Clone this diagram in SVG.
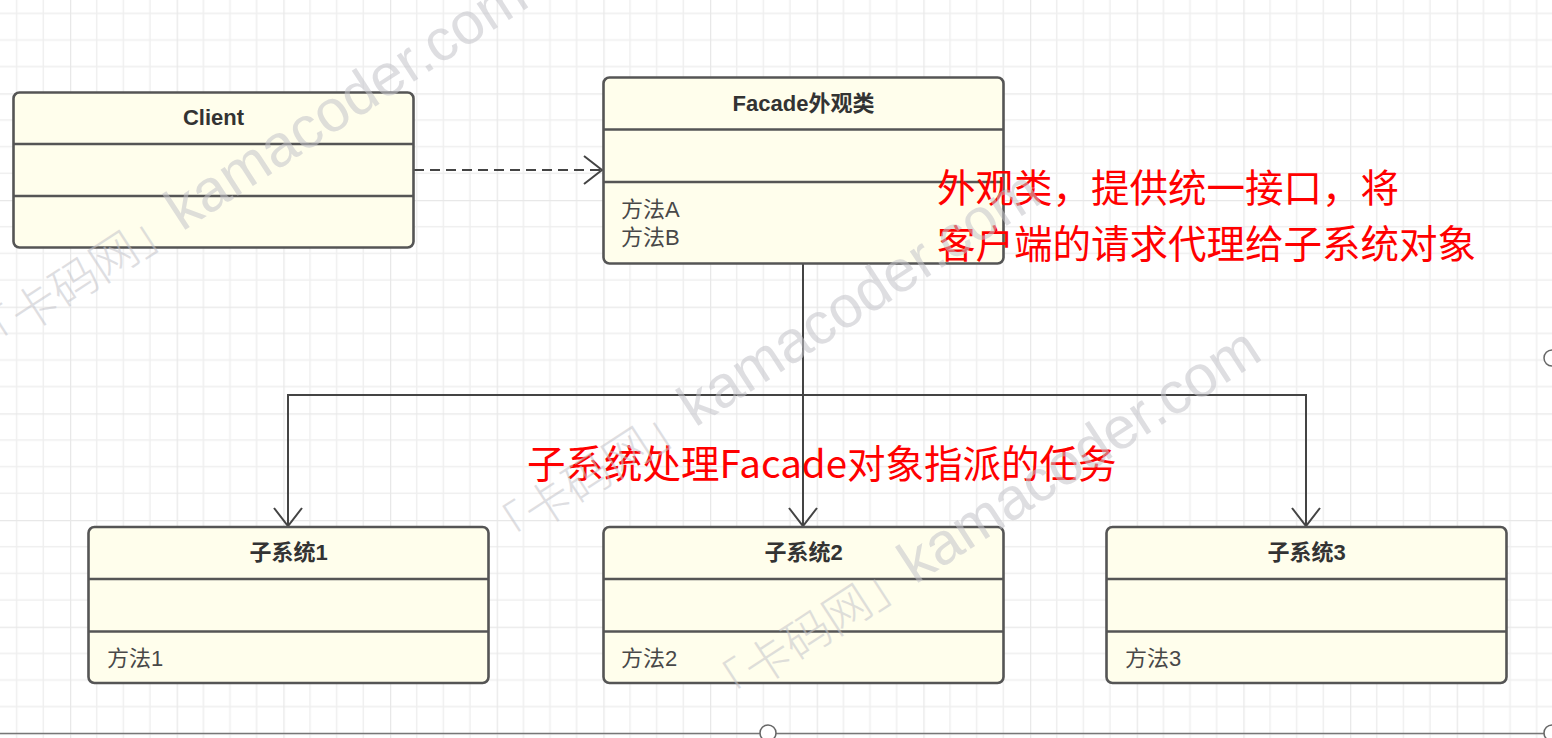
<svg xmlns="http://www.w3.org/2000/svg" width="1552" height="738" viewBox="0 0 1552 738">
  <defs>
    <pattern id="grid" patternUnits="userSpaceOnUse" x="70" y="93.33" width="106.67" height="106.67">
      <path d="M26.67,0 V106.67 M53.33,0 V106.67 M80,0 V106.67 M0,26.67 H106.67 M0,53.33 H106.67 M0,80 H106.67" stroke="#efefef" stroke-width="1.5" fill="none"/>
      <path d="M0,0 V106.67 M0,0 H106.67" stroke="#e8e8e8" stroke-width="2.5" fill="none"/>
    </pattern>
    <marker id="open" viewBox="0 0 24 32" markerUnits="userSpaceOnUse" markerWidth="24" markerHeight="32" refX="21" refY="16" orient="auto">
      <path d="M3,2 L21,16 L3,30" fill="none" stroke="#444" stroke-width="2"/>
    </marker>
    <style>
      .box { fill: #fffeec; stroke: #555; stroke-width: 2.6; }
      .sep { stroke: #555; stroke-width: 2.6; fill: none; }
      .title { font-family: "Liberation Sans", "Noto Sans CJK SC", sans-serif; font-weight: bold; font-size: 22px; fill: #333; text-anchor: middle; }
      .meth { font-family: "Liberation Sans", "Noto Sans CJK SC", sans-serif; font-size: 22px; fill: #484848; }
      .conn { stroke: #444; stroke-width: 2; fill: none; }
      .note { font-family: "Noto Sans CJK SC", sans-serif; font-size: 38.5px; fill: #ff0000; }
      .wm { font-family: "Liberation Sans", "Noto Sans CJK SC", sans-serif; font-size: 59px; fill: #c4c4ca; opacity: 0.55; }
      .wmc { font-family: "Noto Sans CJK SC", sans-serif; font-size: 47px; font-weight: 300; }
      .handle { fill: #fff; stroke: #666; stroke-width: 1.5; }
    </style>
  </defs>

  <rect x="0" y="0" width="1552" height="738" fill="#ffffff"/>
  <rect x="0" y="0" width="1552" height="738" fill="url(#grid)"/>

  <g id="connectors">
    <path class="conn" d="M414,170 H602" stroke-dasharray="10,6" marker-end="url(#open)"/>
    <path class="conn" d="M803,264 V526" marker-end="url(#open)"/>
    <path class="conn" d="M803,395 H288 V526" marker-end="url(#open)"/>
    <path class="conn" d="M803,395 H1306 V526" marker-end="url(#open)"/>
  </g>

  <g id="client">
    <rect class="box" x="13.5" y="92.5" width="400" height="155" rx="6"/>
    <path class="sep" d="M13.5,144 H413.5 M13.5,196 H413.5"/>
    <text class="title" x="213.5" y="125">Client</text>
  </g>

  <g id="facade">
    <rect class="box" x="603.5" y="77.5" width="400" height="186" rx="6"/>
    <path class="sep" d="M603.5,129.5 H1003.5 M603.5,182 H1003.5"/>
    <text class="title" x="803.5" y="111">Facade外观类</text>
    <text class="meth" x="621" y="217">方法A</text>
    <text class="meth" x="621" y="245">方法B</text>
  </g>

  <g id="subsystem1">
    <rect class="box" x="88.5" y="527" width="400" height="156" rx="6"/>
    <path class="sep" d="M88.5,579 H488.5 M88.5,631.5 H488.5"/>
    <text class="title" x="288.5" y="560">子系统1</text>
    <text class="meth" x="107" y="666">方法1</text>
  </g>

  <g id="subsystem2">
    <rect class="box" x="603.5" y="527" width="400" height="156" rx="6"/>
    <path class="sep" d="M603.5,579 H1003.5 M603.5,631.5 H1003.5"/>
    <text class="title" x="803.5" y="560">子系统2</text>
    <text class="meth" x="621" y="666">方法2</text>
  </g>

  <g id="subsystem3">
    <rect class="box" x="1106.5" y="527" width="400" height="156" rx="6"/>
    <path class="sep" d="M1106.5,579 H1506.5 M1106.5,631.5 H1506.5"/>
    <text class="title" x="1306.5" y="560">子系统3</text>
    <text class="meth" x="1125" y="666">方法3</text>
  </g>

  <g id="notes">
    <text class="note" x="937" y="202">外观类，提供统一接口，将</text>
    <text class="note" x="937" y="258">客户端的请求代理给子系统对象</text>
    <text class="note" x="527" y="478">子系统处理Facade对象指派的任务</text>
  </g>

  <g id="canvas-edge">
    <line x1="0" y1="733.5" x2="1552" y2="733.5" stroke="#777" stroke-width="1.5"/>
    <circle class="handle" cx="768" cy="733" r="8"/>
    <circle class="handle" cx="1552" cy="733" r="8"/>
    <circle class="handle" cx="1552" cy="358" r="8"/>
  </g>

  <g id="watermarks">
    <text class="wm" transform="translate(-15,360) rotate(-33)"><tspan class="wmc">「卡码网」</tspan>kamacoder.com</text>
    <text class="wm" transform="translate(498,556) rotate(-33)"><tspan class="wmc">「卡码网」</tspan>kamacoder.com</text>
    <text class="wm" transform="translate(718,713) rotate(-33)"><tspan class="wmc">「卡码网」</tspan>kamacoder.com</text>
  </g>
</svg>
